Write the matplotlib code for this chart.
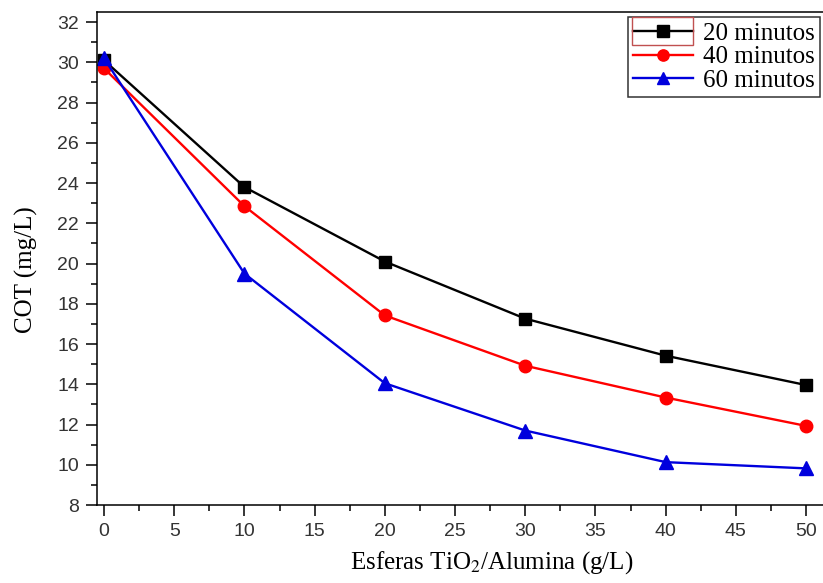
import numpy as np
import matplotlib.pyplot as plt
from matplotlib.ticker import MultipleLocator
from matplotlib.patches import Rectangle

# Datos
x = [0, 10, 20, 30, 40, 50]
cot_20 = [30.1, 23.8, 20.1, 17.26, 15.42, 13.96]
cot_40 = [29.7, 22.85, 17.42, 14.92, 13.34, 11.93]
cot_60 = [30.2, 19.5, 14.05, 11.7, 10.13, 9.82]
labels = ["20 minutos", "40 minutos", "60 minutos"]

W, H = 823, 583
plt.rcParams["mathtext.fontset"] = "stix"

fig = plt.figure(figsize=(W / 100, H / 100), dpi=100)
# el gráfico original está recortado a la derecha
ax = fig.add_axes([97 / W, 1 - 505 / H, 733 / W, 493 / H])

ax.plot(x, cot_20, "-s", color="black", lw=1.7, ms=9, label=labels[0])
ax.plot(x, cot_40, "-o", color="red", lw=1.7, ms=9, label=labels[1])
ax.plot(x, cot_60, "-^", color="#0000dd", lw=1.7, ms=10, label=labels[2])

ax.set_xlim(-0.5, 51.7)
ax.set_ylim(8, 32.5)
ax.xaxis.set_major_locator(MultipleLocator(5))
ax.xaxis.set_minor_locator(MultipleLocator(2.5))
ax.yaxis.set_major_locator(MultipleLocator(2))
ax.yaxis.set_minor_locator(MultipleLocator(1))
ax.tick_params(which="major", direction="out", length=8, width=1.1,
               labelsize=14, pad=5)
ax.tick_params(which="minor", direction="out", length=4.5, width=1.1)
for lab in ax.get_xticklabels() + ax.get_yticklabels():
    lab.set_fontfamily("Liberation Sans")
    lab.set_color("#333333")
for s in ax.spines.values():
    s.set_linewidth(1.1)

ax.set_xlabel("Esferas TiO$_2$/Alumina (g/L)", family="Liberation Serif",
              fontsize=18)
ax.set_ylabel("COT (mg/L)", family="Liberation Serif", fontsize=18)
ax.xaxis.set_label_coords(0.539, -0.09)
ax.yaxis.set_label_coords(-0.08, 0.477)

leg = ax.legend(loc="upper left", bbox_to_anchor=(628 / W, 1 - 17 / H),
                bbox_transform=fig.transFigure, frameon=True, fancybox=False,
                prop={"family": "Liberation Serif", "size": 18},
                handlelength=2.4, handletextpad=0.4, borderpad=0.2,
                labelspacing=0.05, borderaxespad=0, markerscale=0.9)
leg.get_frame().set_edgecolor("black")
leg.get_frame().set_linewidth(1.1)

# recuadro rojo de selección alrededor del primer símbolo
fig.patches.append(Rectangle((632 / W, 1 - 45 / H), 61 / W, 28 / H,
                             transform=fig.transFigure, fill=False,
                             edgecolor="#c05050", lw=1.0))

fig.savefig("out.png", dpi=100)
